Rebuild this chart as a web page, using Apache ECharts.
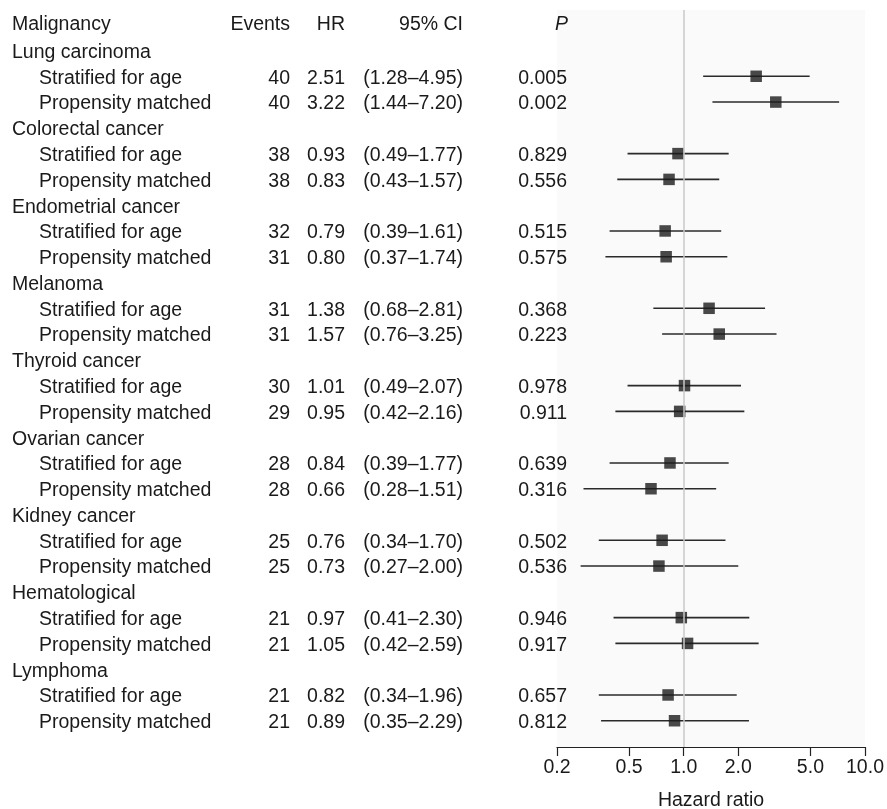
<!DOCTYPE html>
<html><head><meta charset="utf-8">
<script src="https://cdn.jsdelivr.net/npm/echarts@6/dist/echarts.min.js"></script>
<style>html,body{margin:0;padding:0;background:#fff}#c{width:887px;height:809px}</style>
</head><body><div id="c"></div>
<script>
// ---- data ----
var groups = ['Lung carcinoma','Colorectal cancer','Endometrial cancer','Melanoma','Thyroid cancer','Ovarian cancer','Kidney cancer','Hematological','Lymphoma'];
var methods = ['Stratified for age','Propensity matched'];
var events = [40,40,38,38,32,31,31,31,30,29,28,28,25,25,21,21,21,21];
var hr  = [2.51,3.22,0.93,0.83,0.79,0.80,1.38,1.57,1.01,0.95,0.84,0.66,0.76,0.73,0.97,1.05,0.82,0.89];
var lo  = [1.28,1.44,0.49,0.43,0.39,0.37,0.68,0.76,0.49,0.42,0.39,0.28,0.34,0.27,0.41,0.42,0.34,0.35];
var hi  = [4.95,7.20,1.77,1.57,1.61,1.74,2.81,3.25,2.07,2.16,1.77,1.51,1.70,2.00,2.30,2.59,1.96,2.29];
var pval = ['0.005','0.002','0.829','0.556','0.515','0.575','0.368','0.223','0.978','0.911','0.639','0.316','0.502','0.536','0.946','0.917','0.657','0.812'];
var headers = ['Malignancy','Events','HR','95% CI','P'];
var xTicks = [0.2,0.5,1,2,5,10];

// ---- layout ----
var FONT = 'Liberation Sans, Arial, sans-serif';
var FS = 19.5;
var TXT = '#1a1a1a';
var colX = {group:12, method:39, events:290, hr:345, ci:463, p:567};
var yMin = -0.61, yMax = 27.98, headerRow = -0.08;

function rowOf(k){ var g = Math.floor(k/2), m = k%2; return 1 + g*3 + 1 + m; }

var cells = [];
cells.push({x:colX.group, y:headerRow, t:headers[0], a:'left'});
cells.push({x:colX.events, y:headerRow, t:headers[1], a:'right'});
cells.push({x:colX.hr, y:headerRow, t:headers[2], a:'right'});
cells.push({x:colX.ci, y:headerRow, t:headers[3], a:'right'});
cells.push({x:colX.p+1, y:headerRow, t:headers[4], a:'right', it:true});
groups.forEach(function(g,i){ cells.push({x:colX.group, y:1+i*3, t:g, a:'left'}); });
hr.forEach(function(v,k){
  var r = rowOf(k);
  cells.push({x:colX.method, y:r, t:methods[k%2], a:'left'});
  cells.push({x:colX.events, y:r, t:String(events[k]), a:'right'});
  cells.push({x:colX.hr, y:r, t:v.toFixed(2), a:'right'});
  cells.push({x:colX.ci, y:r, t:'(' + lo[k].toFixed(2) + '\u2013' + hi[k].toFixed(2) + ')', a:'right'});
  cells.push({x:colX.p, y:r, t:pval[k], a:'right'});
});

var chart = echarts.init(document.getElementById('c'), null, {renderer:'canvas'});
chart.setOption({
  animation:false,
  backgroundColor:'#fff',
  grid:[
    {left:557, right:22, top:10, bottom:62, show:true, backgroundColor:'#fafafa', borderWidth:0,
     containLabel:false, outerBoundsMode:'none'},
    {left:0, right:0, top:10, bottom:62, show:false, containLabel:false, outerBoundsMode:'none'}
  ],
  xAxis:[
    {gridIndex:0, type:'log', logBase:10, min:0.2, max:10, position:'bottom',
     name:'Hazard ratio', nameLocation:'middle', nameGap:44,
     nameTextStyle:{fontFamily:FONT, fontSize:FS, color:TXT},
     axisLine:{show:true, onZero:false, lineStyle:{color:'#222', width:1.2}},
     axisTick:{show:true, length:9, lineStyle:{color:'#222', width:1.2}, customValues:xTicks},
     axisLabel:{fontFamily:FONT, fontSize:FS, color:TXT, margin:11, customValues:xTicks,
       formatter:function(v){ return Number(v).toFixed(1); }},
     splitLine:{show:false}, minorTick:{show:false}, minorSplitLine:{show:false}},
    {gridIndex:1, type:'value', min:0, max:887, show:false}
  ],
  yAxis:[
    {gridIndex:0, type:'value', min:yMin, max:yMax, inverse:true, show:false},
    {gridIndex:1, type:'value', min:yMin, max:yMax, inverse:true, show:false}
  ],
  series:[
    {type:'custom', xAxisIndex:1, yAxisIndex:1, z:5,
     data:cells.map(function(c){ return [c.x, c.y]; }),
     renderItem:function(params, api){
       var c = cells[params.dataIndex];
       var p = api.coord([api.value(0), api.value(1)]);
       return {type:'text', x:p[0], y:p[1]+1, style:{text:c.t, fill:TXT, align:c.a, verticalAlign:'middle',
         font:(c.it?'italic ':'') + FS + 'px ' + FONT}};
     }},
    {type:'custom', xAxisIndex:0, yAxisIndex:0, z:3,
     data:hr.map(function(v,k){ return [lo[k], hi[k], rowOf(k)]; }),
     encode:{x:[0,1], y:2},
     renderItem:function(params, api){
       var a = api.coord([api.value(0), api.value(2)]);
       var b = api.coord([api.value(1), api.value(2)]);
       return {type:'line', shape:{x1:a[0], y1:a[1]-1, x2:b[0], y2:b[1]-1}, style:{stroke:'#2a2a2a', lineWidth:1.6}};
     },
     markLine:{silent:true, symbol:'none', label:{show:false}, lineStyle:{color:'#c8c8c8', width:1.5, type:'solid'},
       data:[{xAxis:1}]}},
    {type:'scatter', xAxisIndex:0, yAxisIndex:0, z:4, symbol:'rect', symbolSize:11.5, symbolOffset:[0,-1],
     itemStyle:{color:'#1c1c1c'},
     data:hr.map(function(v,k){ return [v, rowOf(k)]; })}
  ]
});
</script></body></html>
